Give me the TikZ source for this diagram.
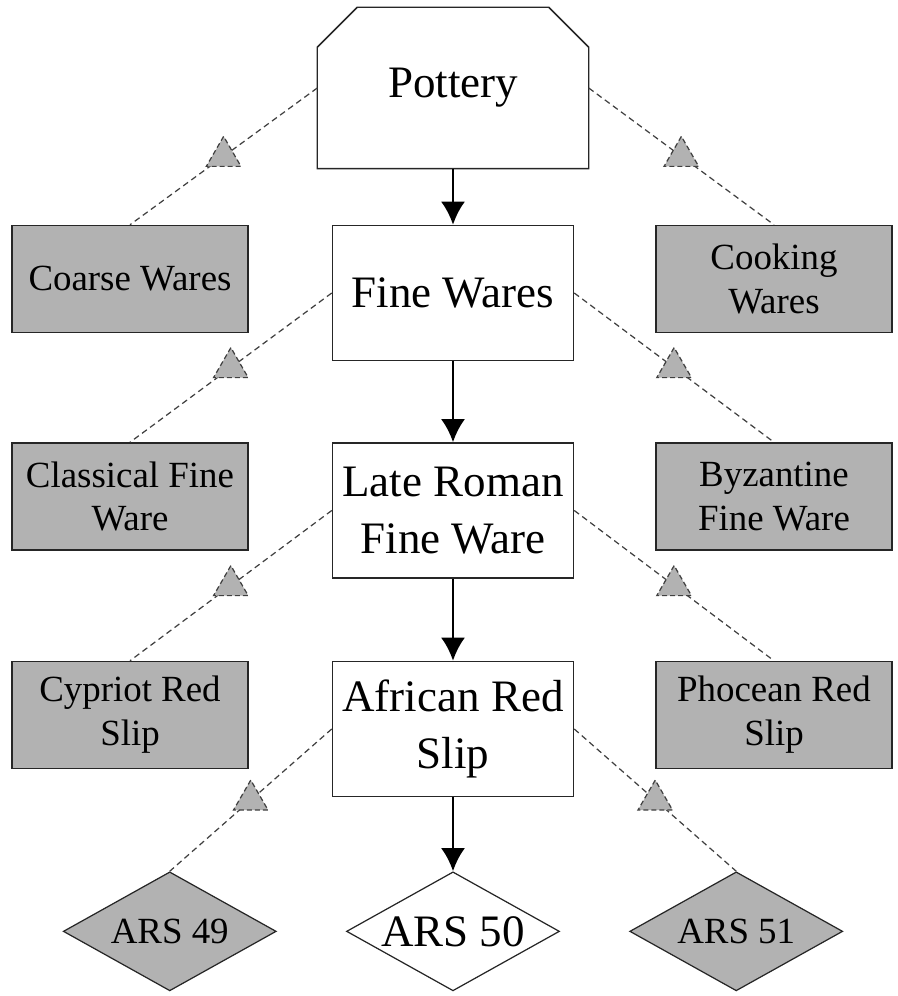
\documentclass[tikz,border=0pt]{standalone}
\usepackage{fontspec}
\setmainfont{Liberation Serif}
\usetikzlibrary{positioning, shapes, arrows.meta}
\tikzstyle{mainbox} = [draw=black!85, line width=0.85pt, rectangle, minimum width=4.82cm, minimum height=2.7cm, align=center, font=\fontsize{25.6}{32.4}\selectfont]
\tikzstyle{sidebox} = [mainbox, fill=gray!60, minimum width=4.72cm, minimum height=2.14cm, font=\fontsize{21}{25}\selectfont]
\tikzstyle{ars}     = [diamond, aspect=1.8, draw=black!85, line width=0.7pt, minimum width=4.26cm, minimum height=2.38cm, inner sep=0pt, font=\fontsize{25.6}{32.4}\selectfont]
\tikzstyle{arsside} = [ars, fill=gray!60, font=\fontsize{21}{25}\selectfont]
\tikzstyle{dep}     = [draw=black!75, dashed, dash pattern=on 0.12cm off 0.08cm, line width=0.7pt]
\tikzstyle{tri}     = [regular polygon, regular polygon sides=3, minimum size=0.8cm, inner sep=0pt, fill=gray!60, draw=black!75, dashed, dash pattern=on 0.1cm off 0.06cm, line width=0.7pt]
\tikzstyle{flow}    = [->, line width=1.6pt]

\begin{document}
\begin{tikzpicture}[>={Latex[length=0.46cm, width=0.48cm]}]
	\useasboundingbox (-9.06,1.76) rectangle (8.88,-18.16);
	% main column
	\node [mainbox, draw=none, minimum width=5.4cm, minimum height=3.2cm] (pottery) {Pottery};
	\node [mainbox, below=1.12cm of pottery] (fine) {Fine Wares};
	\node [mainbox, below=1.62cm of fine] (late) {Late Roman\\Fine Ware};
	\node [mainbox, below=1.64cm of late] (african) {African Red\\Slip};
	\node [ars, below=1.48cm of african] (ars50) {ARS 50};

	% side boxes
	\node [sidebox, left=1.66cm of fine.north west, anchor=north east] (coarse) {Coarse Wares};
	\node [sidebox, right=1.62cm of fine.north east, anchor=north west] (cooking) {Cooking\\Wares};
	\node [sidebox, left=1.66cm of late.north west, anchor=north east] (classical) {Classical Fine\\Ware};
	\node [sidebox, right=1.62cm of late.north east, anchor=north west] (byzantine) {Byzantine\\Fine Ware};
	\node [sidebox, left=1.66cm of african.north west, anchor=north east] (cypriot) {Cypriot Red\\Slip};
	\node [sidebox, right=1.62cm of african.north east, anchor=north west] (phocean) {Phocean Red\\Slip};
	\node [arsside, left=1.38cm of ars50] (ars49) {ARS 49};
	\node [arsside, right=1.38cm of ars50] (ars51) {ARS 51};

	% outline of the top box
	\draw [draw=black!85, line width=0.85pt] ([yshift=-0.8cm]pottery.north west) -- ([xshift=0.8cm]pottery.north west)
		-- ([xshift=-0.8cm]pottery.north east) -- ([yshift=-0.8cm]pottery.north east)
		-- (pottery.south east) -- (pottery.south west) -- cycle;

	\draw [flow] (pottery) -- (fine);
	\draw [flow] (fine) -- (late);
	\draw [flow] (late) -- (african);
	\draw [flow] (african) -- (ars50);

	\draw [dep] (pottery.west) -- node [tri] {} (coarse.north);
	\draw [dep] (pottery.east) -- node [tri] {} (cooking.north);
	\draw [dep] (fine.west) -- node [tri] {} (classical.north);
	\draw [dep] (fine.east) -- node [tri] {} (byzantine.north);
	\draw [dep] (late.west) -- node [tri] {} (cypriot.north);
	\draw [dep] (late.east) -- node [tri] {} (phocean.north);
	\draw [dep] (african.west) -- node [tri] {} (ars49.north);
	\draw [dep] (african.east) -- node [tri] {} (ars51.north);
\end{tikzpicture}
\end{document}
